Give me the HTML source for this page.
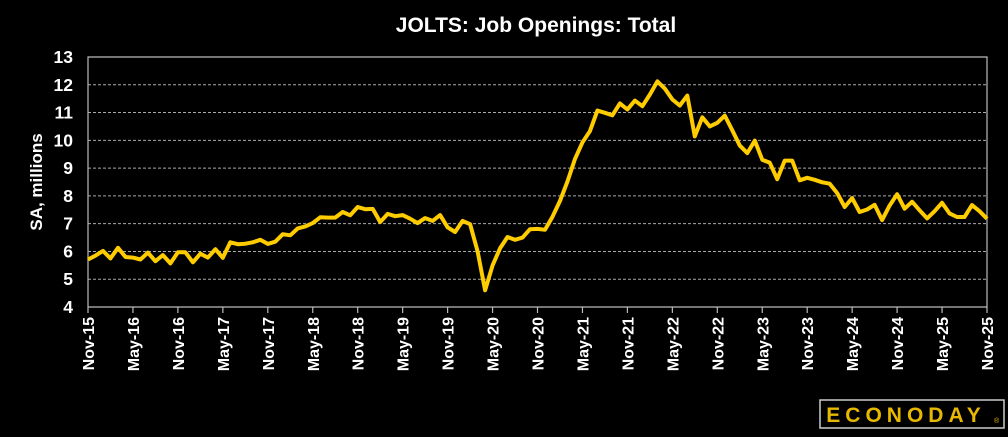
<!DOCTYPE html>
<html><head><meta charset="utf-8"><style>
body{margin:0;background:#000;width:1008px;height:432px;overflow:hidden}
svg{font-family:"Liberation Sans",sans-serif}
</style></head><body>
<svg width="1008" height="432">
<text x="536" y="32" fill="#fff" font-size="21" font-weight="bold" text-anchor="middle">JOLTS: Job Openings: Total</text>
<text transform="translate(42,182) rotate(-90)" fill="#fff" font-size="17" font-weight="bold" text-anchor="middle">SA, millions</text>
<g id="grid"></g><g id="axes"></g><g id="lbl"></g>
<path id="line" fill="none" stroke="#ffcc00" stroke-width="4" stroke-linejoin="round"/>
<rect x="820" y="400" width="184" height="28" fill="#000" stroke="#ccc" stroke-width="1.5"/>
<text x="906" y="422" fill="#e8b800" font-size="21" font-weight="bold" text-anchor="middle" letter-spacing="5">ECONODAY</text>
<text x="994" y="423" fill="#e8b800" font-size="7">®</text>
</svg>
<script>
const values=[5.71,5.85,6.02,5.75,6.13,5.8,5.78,5.71,5.96,5.65,5.87,5.57,5.97,5.97,5.61,5.92,5.78,6.08,5.77,6.33,6.26,6.28,6.33,6.42,6.27,6.35,6.62,6.58,6.83,6.9,7.02,7.23,7.22,7.22,7.42,7.3,7.6,7.52,7.53,7.06,7.35,7.27,7.31,7.18,7.02,7.2,7.1,7.31,6.87,6.7,7.1,6.98,6.0,4.6,5.5,6.11,6.52,6.42,6.5,6.8,6.81,6.78,7.25,7.82,8.52,9.33,9.93,10.33,11.07,10.99,10.9,11.33,11.11,11.43,11.23,11.65,12.12,11.86,11.47,11.25,11.61,10.14,10.83,10.5,10.63,10.89,10.36,9.81,9.54,9.99,9.3,9.2,8.6,9.27,9.27,8.56,8.65,8.58,8.49,8.44,8.1,7.6,7.92,7.42,7.51,7.68,7.13,7.65,8.06,7.54,7.79,7.48,7.19,7.45,7.75,7.37,7.24,7.24,7.67,7.45,7.18];
const xLabels=["Nov-15","May-16","Nov-16","May-17","Nov-17","May-18","Nov-18","May-19","Nov-19","May-20","Nov-20","May-21","Nov-21","May-22","Nov-22","May-23","Nov-23","May-24","Nov-24","May-25","Nov-25"];
const yTicks=[4,5,6,7,8,9,10,11,12,13];
const X0=88,X1=987,Y0=307,Y1=57,NS="http://www.w3.org/2000/svg";
const xs=i=>X0+(X1-X0)*i/120, ys=v=>Y0-(Y0-Y1)*(v-4)/9;
function mk(t,a,p){const e=document.createElementNS(NS,t);for(const k in a)e.setAttribute(k,a[k]);document.getElementById(p).appendChild(e);return e;}
yTicks.forEach(v=>{
 if(v>4&&v<13){const g=mk('line',{x1:X0,x2:X1,y1:ys(v),y2:ys(v),stroke:'#aaa','stroke-width':1,'stroke-dasharray':'3,2'},'grid');
 
 }
 const t=mk('text',{x:73,y:ys(v)+6,fill:'#fff','font-size':17.5,'font-weight':'bold','text-anchor':'end'},'lbl');t.textContent=v;
 
 
});
const ax=mk('path',{d:`M${X0},${Y1}H${X1}V${Y0}H${X0}Z`,fill:'none',stroke:'#bbb','stroke-width':1.2},'axes');


xLabels.forEach((l,k)=>{
 const x=xs(k*6);
 const tk=mk('line',{x1:x,x2:x,y1:Y0,y2:Y0+6,stroke:'#bbb','stroke-width':1.2},'axes');
 
 
 const t=mk('text',{transform:`translate(${x+6},${Y0+10}) rotate(-90)`,fill:'#fff','font-size':16,'font-weight':'bold','text-anchor':'end'},'lbl');t.textContent=l;
 
 
});
document.getElementById('line').setAttribute('d',values.map((v,i)=>(i?'L':'M')+xs(i).toFixed(1)+','+ys(v).toFixed(1)).join(''));
</script>
</body></html>
